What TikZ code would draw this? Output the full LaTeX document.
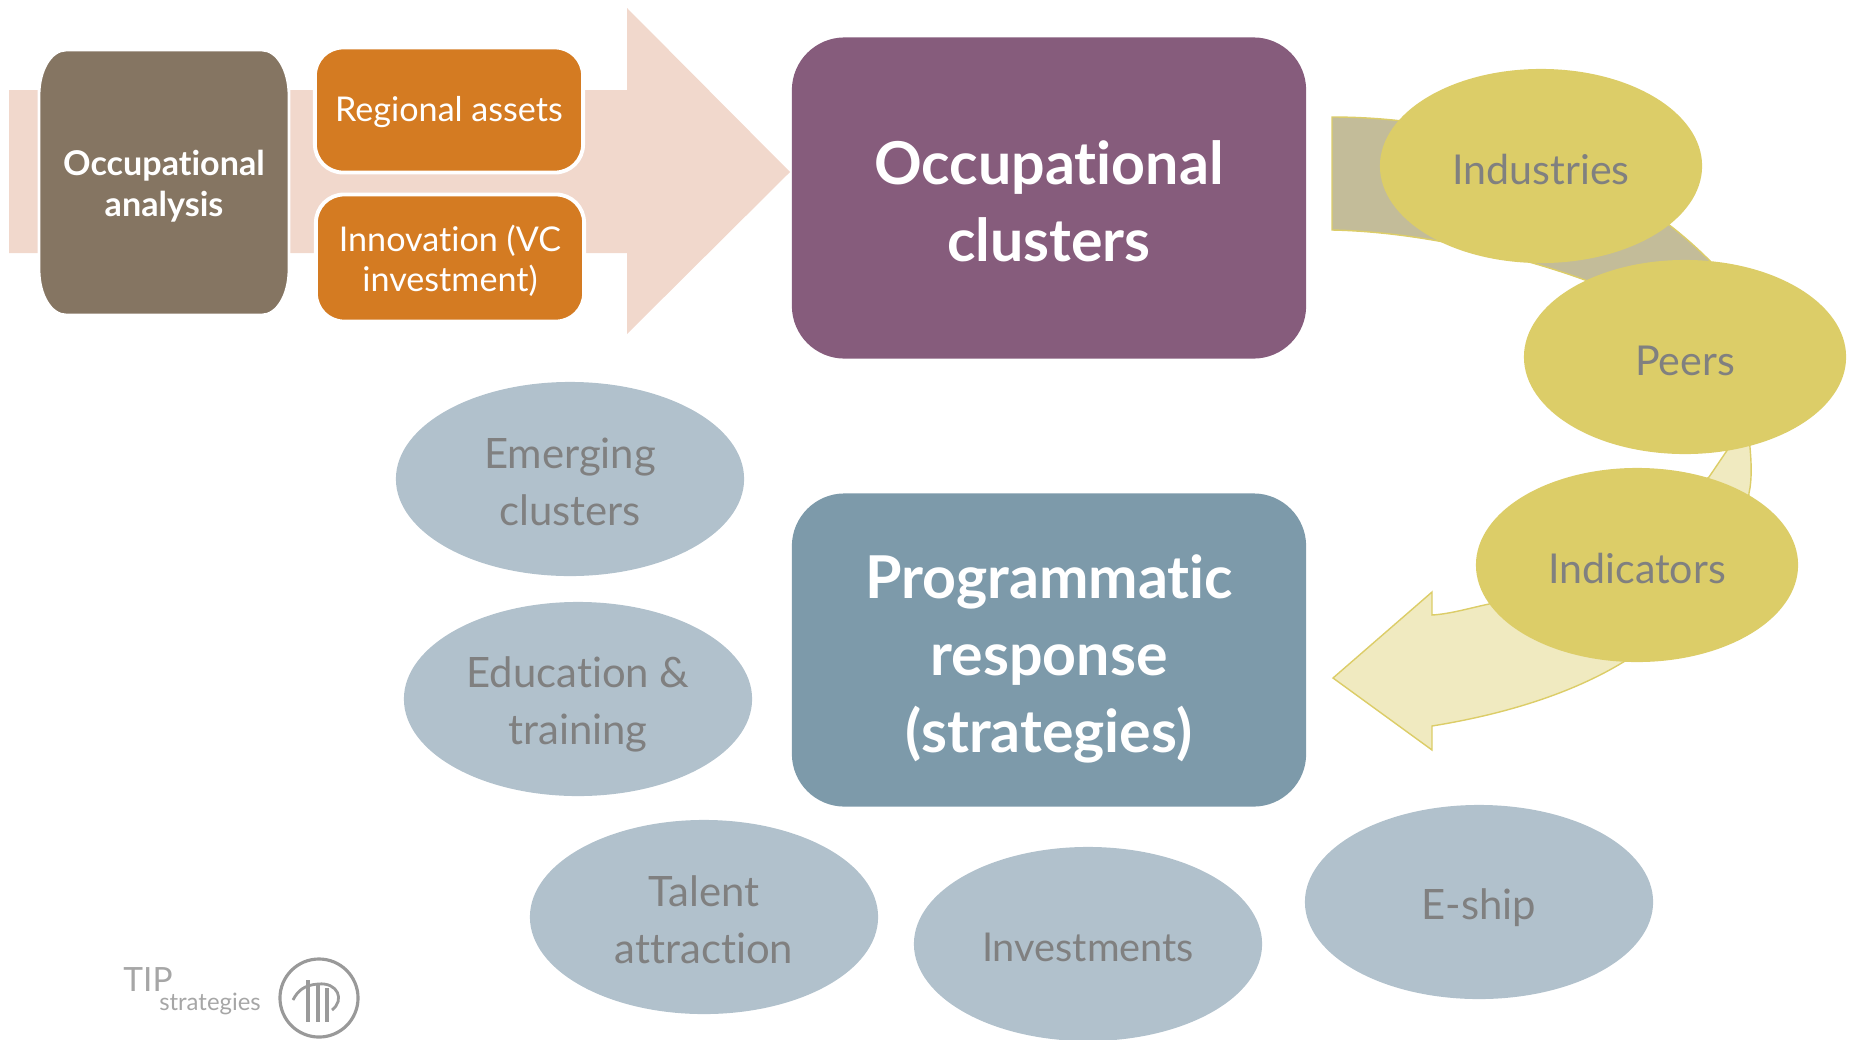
\documentclass[tikz,border=0pt]{standalone}
\usepackage{fontspec}
\setmainfont{Lato}[Ligatures=NoCommon]
\usetikzlibrary{shapes.geometric}

\definecolor{peach}{HTML}{F1D8CC}
\definecolor{taupe}{HTML}{857562}
\definecolor{rust}{HTML}{D47B22}
\definecolor{plum}{HTML}{865C7C}
\definecolor{steel}{HTML}{7D9AAA}
\definecolor{mist}{HTML}{B1C1CC}
\definecolor{straw}{HTML}{DCCD68}
\definecolor{cream}{HTML}{F0EAC0}
\definecolor{khaki}{HTML}{C3BC99}
\definecolor{ash}{HTML}{808080}

\newcommand{\dn}[1]{\rule{0pt}{#1}}

\tikzset{
  down/.style={execute at begin node={\rule{0pt}{#1}}},
  smallbox/.style={draw=white,line width=1.1pt,rounded corners=8pt,fill=rust,text=white,
    minimum width=2.68cm,minimum height=1.25cm,align=center,font=\fontsize{9.7}{11.4}\selectfont},
  bigbox/.style={rounded corners=15pt,text=white,minimum width=5.14cm,align=center,
    font=\fontsize{16.8}{21.8}\selectfont\bfseries},
  blob/.style={ellipse,inner sep=0pt,minimum width=3.48cm,minimum height=1.94cm,fill=mist,
    text=ash,align=center,font=\fontsize{11.9}{16.3}\selectfont},
  ylblob/.style={blob,minimum width=3.22cm,fill=straw,down=10.5pt,font=\fontsize{11.7}{16}\selectfont},
  logotext/.style={text=ash!70,inner sep=0pt}
}

\begin{document}
\begin{tikzpicture}[x=0.01cm,y=-0.01cm]
\useasboundingbox (0,0) rectangle (1855,1039);

% big arrow
\fill[peach] (9,90) -- (627,90) -- (627,8) -- (790,172) -- (627,334) -- (627,253) -- (9,253) -- cycle;

% curved arrow
\draw[fill=cream,draw=straw,line width=0.4pt] (1748,430) .. controls (1752,460) and (1752,480) .. (1749,493)
  .. controls (1745,560) and (1690,630) .. (1625,661) .. controls (1570,695) and (1500,715) .. (1432,726)
  -- (1432,750) -- (1333,678) -- (1432,592) -- (1432,615) .. controls (1450,614) and (1470,608) .. (1489,604)
  -- (1600,560) -- (1709,477) -- (1728,449) -- cycle;
\draw[fill=khaki,draw=straw,line width=0.4pt] (1332,117) .. controls (1480,117) and (1620,170) .. (1710,261)
  -- (1700,300) -- (1620,300) -- (1585,280) .. controls (1530,260) and (1430,232) .. (1332,230) -- cycle;

% nodes
\draw[fill=taupe,draw=white,line width=0.8pt] (66,50) -- (262,50) .. controls (277,50) and (289,70) .. (289,95)
  -- (289,270) .. controls (289,295) and (277,315) .. (262,315)
  -- (66,315) .. controls (51,315) and (39,295) .. (39,270)
  -- (39,95) .. controls (39,70) and (51,50) .. (66,50) -- cycle;
\node (oa) at (164,183) [text=white,align=center,font=\fontsize{9.7}{11.4}\selectfont\bfseries] {\dn{9pt}Occupational\\analysis};
\node (ra) at (449,110) [smallbox,down=8.2pt] {Regional assets};
\node (iv) at (450,258) [smallbox,minimum height=1.27cm] {\dn{9pt}Innovation (VC\\investment)};

\node (oc) at (1049,198) [bigbox,fill=plum,minimum height=3.21cm] {\dn{14.4pt}Occupational\\clusters};
\node (pr) at (1049,650) [bigbox,fill=steel,minimum height=3.13cm] {\dn{17.6pt}Programmatic\\response\\(strategies)};

\node (in) at (1541,166) [ylblob] {Industries};
\node (pe) at (1685,357) [ylblob] {Peers};
\node (ic) at (1637,565) [ylblob] {Indicators};

\node (em) at (570,479) [blob] {\dn{10.4pt}Emerging\\clusters};
\node (ed) at (578,699) [blob] {\dn{12pt}Education \&\\training};
\node (ta) at (704,917) [blob] {\dn{10.4pt}Talent\\attraction};
\node (ie) at (1088,944) [blob,down=10pt,font=\fontsize{11.3}{16}\selectfont] {Investments};
\node (es) at (1479,902) [blob,down=12pt] {E-ship};

% logo
\node (tp) at (148,980) [logotext,font=\fontsize{9.5}{10}\selectfont] {TIP};
\node (st) at (210,1004) [logotext,font=\fontsize{6.8}{7}\selectfont] {strategies};
\node (lg) at (319,998) [circle,draw=ash!80,line width=0.9pt,minimum size=0.78cm,inner sep=0pt] {};
\draw[ash!80,line width=1.3pt] (308,980) -- (308,1022);
\draw[ash!80,line width=1.3pt] (318,984) -- (318,1022);
\draw[ash!80,line width=1.3pt] (327,988) -- (327,1022);
\draw[ash!80,line width=0.8pt] (293,1000) .. controls (298,990) and (305,985) .. (318,984)
  .. controls (338,982) and (345,1000) .. (332,1010);
\end{tikzpicture}
\end{document}
